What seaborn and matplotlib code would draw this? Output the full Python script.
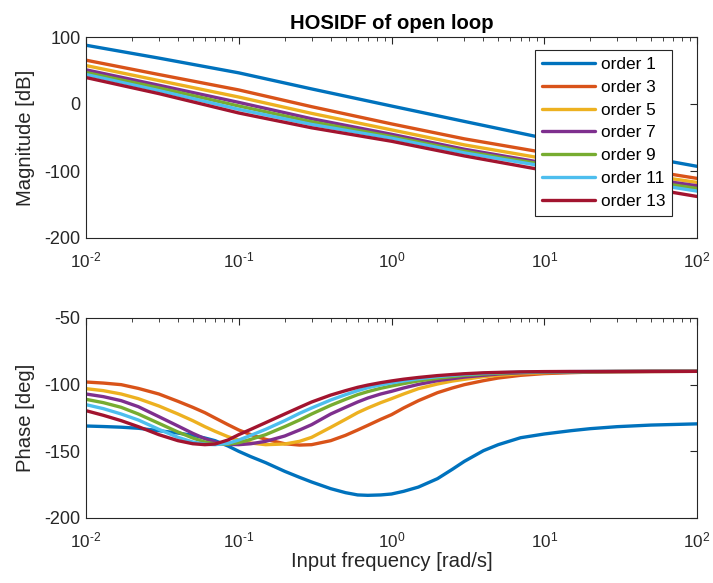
import numpy as np
import pandas as pd
import matplotlib
matplotlib.use("Agg")
import matplotlib.pyplot as plt
import seaborn as sns
from matplotlib.ticker import NullFormatter, FixedLocator, FixedFormatter, LogLocator

sns.set_theme(style="white")
plt.rcParams['font.family'] = ['Liberation Sans', 'DejaVu Sans']
plt.rcParams['mathtext.fontset'] = 'custom'
plt.rcParams['mathtext.rm'] = 'Liberation Sans'
plt.rcParams['mathtext.it'] = 'Liberation Sans'
plt.rcParams['axes.unicode_minus'] = False

orders = ["order 1", "order 3", "order 5", "order 7", "order 9", "order 11", "order 13"]
colors = ["#0072BD", "#D95319", "#EDB120", "#7E2F8E", "#77AC30", "#4DBEEE", "#A2142F"]

x_ticks = [0.01, 0.1, 1, 10, 100]
x_ticklabels = [r"$10^{\text{-}2}$", r"$10^{\text{-}1}$", r"$10^{0}$", r"$10^{1}$", r"$10^{2}$"]
mag_ticks = [-200, -100, 0, 100]
ph_ticks = [-200, -150, -100, -50]

# Magnitude [dB]
freq_mag = [0.01, 0.03, 0.1, 0.3, 1, 3, 10, 30, 100]
mag_1 = [87.7, 68.5, 46.5, 22.5, -3, -26, -51, -71.5, -93]
mag_3 = [65.4, 44, 21, -4, -29.7, -52, -72.5, -92, -111]
mag_5 = [57.4, 35, 10.4, -14, -38.6, -61, -81.5, -99.5, -117]
mag_7 = [51, 28, 2.4, -22, -45.2, -67.5, -88, -105, -122]
mag_9 = [47, 24, -3, -26.5, -48.6, -70.5, -90.5, -108.5, -126]
mag_11 = [44, 20, -8, -30.5, -51.1, -73, -93, -111.5, -130]
mag_13 = [39.5, 15.5, -13.4, -35.5, -55.6, -77.5, -99, -118, -138]

# Phase [deg]
freq_ph = [0.01, 0.013, 0.017, 0.022, 0.03, 0.04, 0.05, 0.06, 0.07, 0.085, 0.1, 0.12,
           0.15, 0.2, 0.25, 0.3, 0.4, 0.5, 0.6, 0.7, 0.85, 1, 1.2, 1.5, 2, 2.5, 3, 4,
           5, 7, 10, 15, 20, 30, 50, 100]
ph_1 = [-131, -131.4, -131.9, -132.7, -134.5, -136.3, -138, -140, -142, -146, -150, -154,
        -158.5, -165, -169.5, -173, -178, -181, -182.7, -183, -182.7, -182, -180, -176.8, -170.5, -163.5, -157.5, -149.5,
        -145, -139.8, -137, -134.5, -133, -131.5, -130.3, -129.4]
ph_3 = [-98, -98.8, -100, -102.8, -107, -112.5, -117, -121, -125, -130, -134, -137.5,
        -141, -144.3, -145.3, -145, -142, -138, -134, -130.5, -126, -122.5, -117.5, -112, -106, -102.5, -100, -97,
        -95, -93, -91.7, -91, -90.6, -90.3, -90.1, -90]
ph_5 = [-103, -104.5, -107, -110.5, -116, -122, -127, -131.5, -135, -139, -141.5, -143.8,
        -145, -144.5, -142.5, -139.5, -132, -126, -121, -117.5, -113.5, -110.5, -107, -103, -99.5, -97.3, -96, -94,
        -93, -91.8, -91, -90.6, -90.4, -90.2, -90.1, -90]
ph_7 = [-107, -109, -112, -116.5, -124, -131, -136.5, -140.5, -143, -144.8, -145, -144.3,
        -142.5, -138.5, -134, -130, -122, -117, -113, -110, -107, -105, -102.5, -99.8, -97, -95.5, -94.3, -93,
        -92, -91.1, -90.6, -90.4, -90.3, -90.2, -90.1, -90]
ph_9 = [-111, -113.5, -117, -122, -129, -135.5, -140, -143, -144.5, -144.7, -143.5, -141,
        -137.5, -131.5, -126.5, -122, -115.5, -111, -107.5, -105.2, -102.7, -101, -99.2, -97.2, -95.2, -94, -93, -92,
        -91.4, -90.8, -90.5, -90.3, -90.2, -90.1, -90.05, -90]
ph_11 = [-115, -118, -122, -126.5, -133.5, -139.5, -143, -144.7, -145, -144, -141.5, -138,
         -133.5, -127, -121.5, -117.5, -111.5, -107.5, -104.5, -102.3, -100.2, -98.7, -97.2, -95.6, -94, -93, -92.3, -91.5,
         -91, -90.6, -90.3, -90.2, -90.1, -90.05, -90, -90]
ph_13 = [-119.5, -123, -127, -131.5, -137.5, -142, -144.3, -145, -144.5, -141.5, -137.5, -133.5,
         -128.5, -122, -117, -113, -107.8, -104.5, -102, -100.3, -98.5, -97.2, -95.9, -94.6, -93.2, -92.4, -91.8, -91.1,
         -90.8, -90.4, -90.2, -90.1, -90.1, -90.05, -90, -90]

mags = [mag_1, mag_3, mag_5, mag_7, mag_9, mag_11, mag_13]
phs = [ph_1, ph_3, ph_5, ph_7, ph_9, ph_11, ph_13]

df_mag = pd.concat([pd.DataFrame({"f": freq_mag, "v": m, "order": o}) for m, o in zip(mags, orders)])
df_ph = pd.concat([pd.DataFrame({"f": freq_ph, "v": p, "order": o}) for p, o in zip(phs, orders)])

W, H = 713, 583
fig = plt.figure(figsize=(W / 100, H / 100), dpi=100)
ax1 = fig.add_axes([86 / W, 1 - 238 / H, 611 / W, 201 / H])
ax2 = fig.add_axes([86 / W, 1 - 518 / H, 611 / W, 200 / H])

pal = dict(zip(orders, colors))
sns.lineplot(data=df_mag, x="f", y="v", hue="order", hue_order=orders, palette=pal,
             linewidth=2.4, ax=ax1, legend=True)
sns.lineplot(data=df_ph, x="f", y="v", hue="order", hue_order=orders, palette=pal,
             linewidth=2.4, ax=ax2, legend=False)

txt = "#262626"
fs_lab = 14.6
for ax in (ax1, ax2):
    ax.set_xscale("log")
    ax.set_xlim(0.01, 100)
    ax.xaxis.set_major_locator(FixedLocator(x_ticks))
    ax.xaxis.set_major_formatter(FixedFormatter(x_ticklabels))
    ax.xaxis.set_minor_locator(LogLocator(base=10, subs=np.arange(2, 10), numticks=100))
    ax.xaxis.set_minor_formatter(NullFormatter())
    ax.tick_params(axis="both", which="both", direction="in", top=True, right=True,
                   colors=txt, labelcolor=txt)
    ax.tick_params(which="major", length=5, width=0.8)
    ax.tick_params(which="minor", length=3, width=0.6)
    ax.tick_params(axis="x", which="major", pad=9, labelsize=12.3)
    ax.tick_params(axis="y", which="major", pad=4, labelsize=13)
    for s in ax.spines.values():
        s.set_color(txt)
        s.set_linewidth(0.8)
    ax.set_xlabel("")
    ax.set_facecolor("white")

ax1.set_ylim(-200, 100)
ax1.yaxis.set_major_locator(FixedLocator(mag_ticks))
ax2.set_ylim(-200, -50)
ax2.yaxis.set_major_locator(FixedLocator(ph_ticks))

ax1.set_ylabel("Magnitude [dB]", fontsize=fs_lab, color=txt)
ax2.set_ylabel("Phase [deg]", fontsize=fs_lab, color=txt)
ax1.yaxis.set_label_coords(-(86 - 35) / 611, 0.5)
ax2.yaxis.set_label_coords(-(86 - 35) / 611, 0.5)
ax2.set_xlabel("Input frequency [rad/s]", fontsize=fs_lab, color=txt, labelpad=1)
ax1.set_title("HOSIDF of open loop", fontsize=14.6, fontweight="bold", color="black", pad=6)

leg = ax1.legend(loc="upper right", bbox_to_anchor=((672 - 86) / 611, 1 - 13 / 201),
                 bbox_transform=ax1.transAxes, fontsize=12.4, frameon=True, fancybox=False,
                 edgecolor=txt, framealpha=1, handlelength=3.1, borderpad=0.4, labelspacing=0.45,
                 handletextpad=0.3, borderaxespad=0)
leg.get_frame().set_linewidth(0.8)
for t in leg.get_texts():
    t.set_color("black")

fig.savefig("out.png", dpi=100, facecolor="white")
